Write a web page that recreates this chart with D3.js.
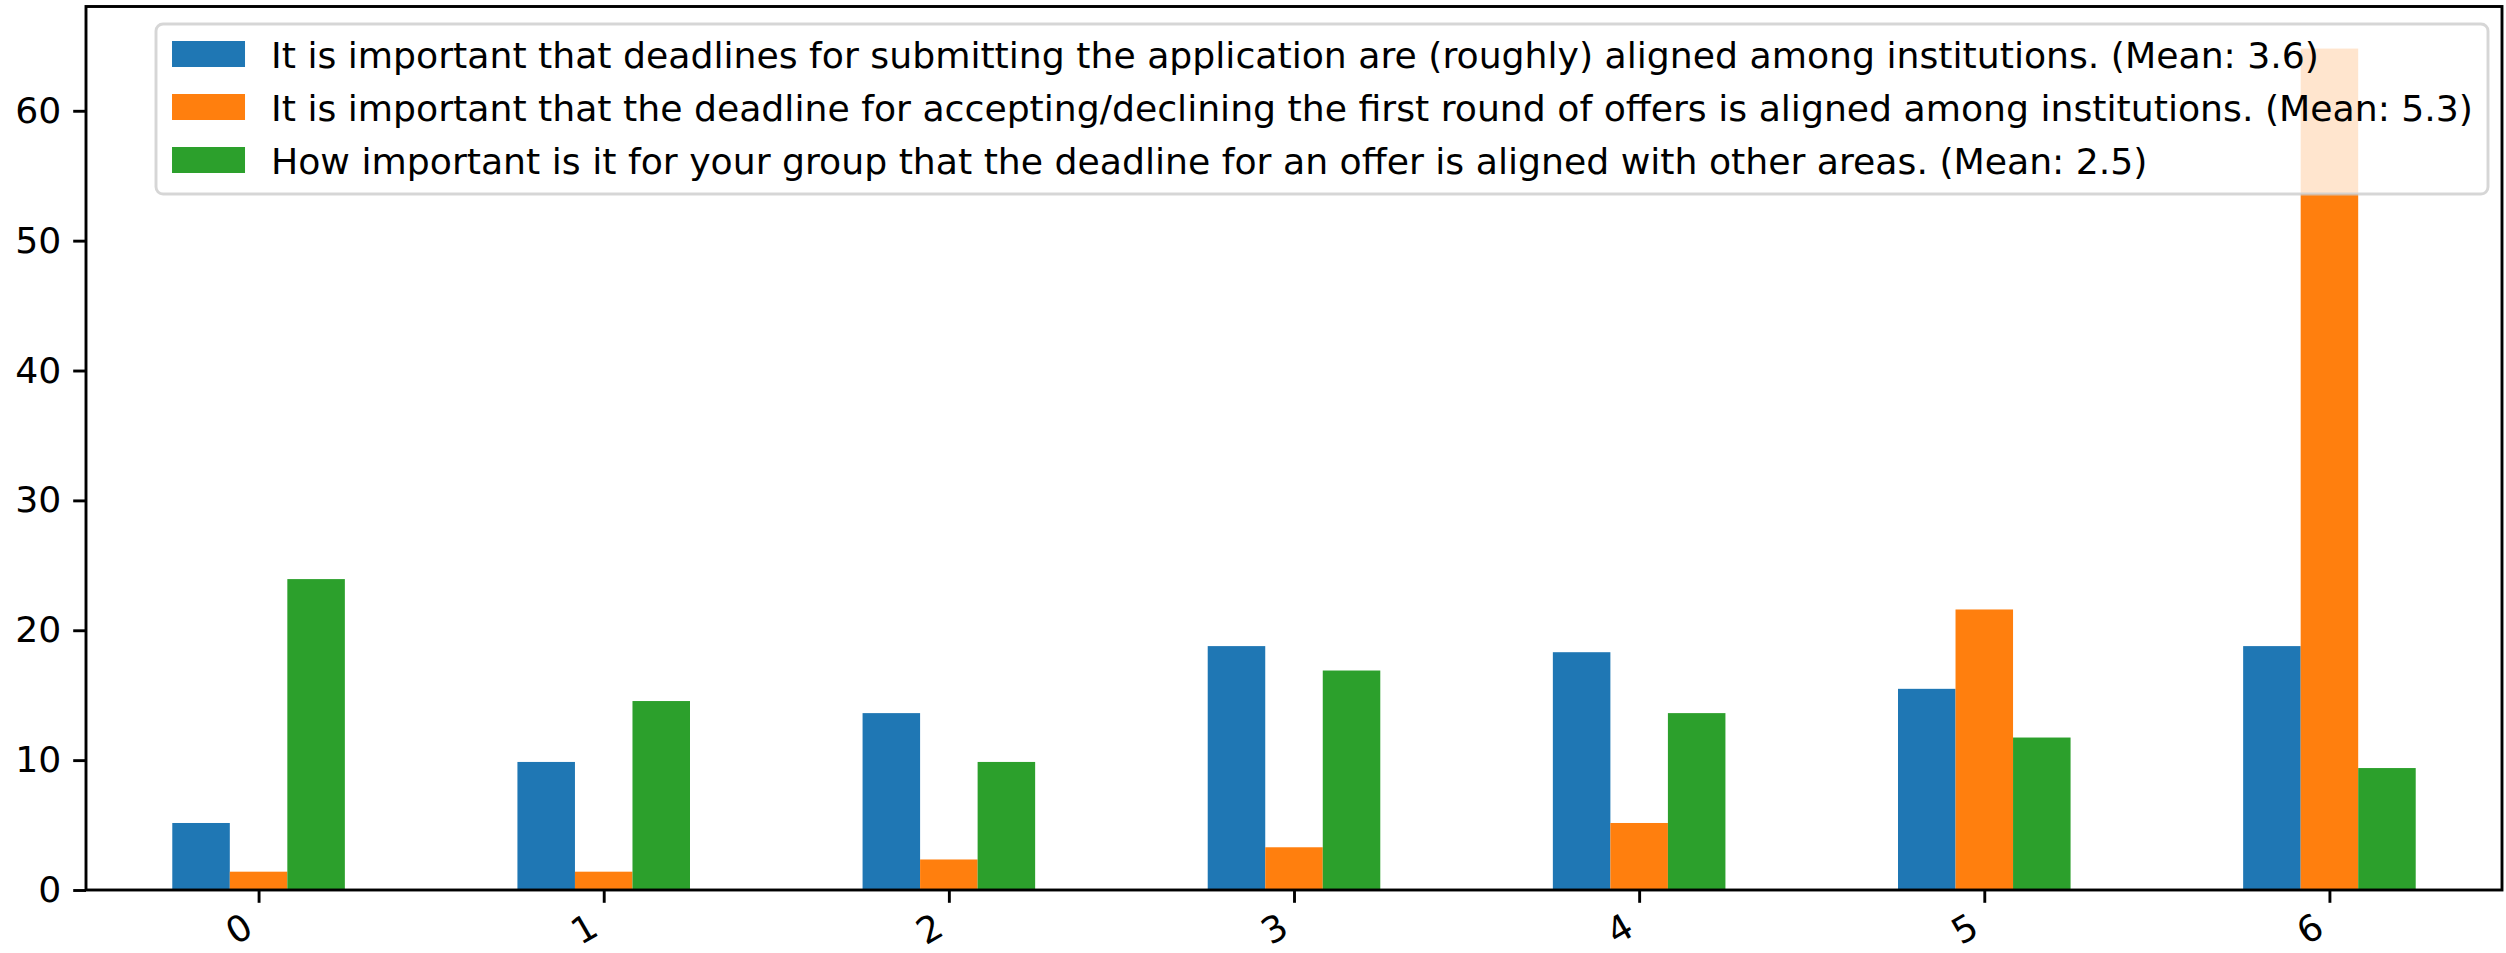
<!DOCTYPE html>
<html>
<head>
<meta charset="utf-8">
<script src="https://cdnjs.cloudflare.com/ajax/libs/d3/7.8.5/d3.min.js"></script>
<style>
    html, body { margin: 0; padding: 0; background: #fff; }
    svg { display: block; font-family: "DejaVu Sans", sans-serif; }
</style>
</head>
<body>
<div class="graph"></div>
<script>
'use strict';

// answer scale 0..6, share of respondents in percent
var categories = ['0', '1', '2', '3', '4', '5', '6'];

var seriesNames = [
    'It is important that deadlines for submitting the application are (roughly) aligned among institutions. (Mean: 3.6)',
    'It is important that the deadline for accepting/declining the first round of offers is aligned among institutions. (Mean: 5.3)',
    'How important is it for your group that the deadline for an offer is aligned with other areas. (Mean: 2.5)'
];

var submitValues = [5.16, 9.86, 13.62, 18.78, 18.31, 15.49, 18.78];
var acceptValues = [1.41, 1.41, 2.35, 3.29, 5.16, 21.60, 64.79];
var otherAreasValues = [23.94, 14.55, 9.86, 16.90, 13.62, 11.74, 9.39];

var yTicks = [0, 10, 20, 30, 40, 50, 60];

(function () {

    var width = 2506;
    var height = 953;
    var fontSize = 36.2;
    var left = 86, right = 2502, top = 6.5, bottom = 890;
    var colors = ['#1f77b4', '#ff7f0e', '#2ca02c'];
    var series = [submitValues, acceptValues, otherAreasValues];

    var svg = d3.select('.graph')
        .append('svg')
        .attr('width', width)
        .attr('height', height);

    var x = d3.scaleLinear()
        .domain([-0.5, categories.length - 0.5])
        .range([left, right]);

    var yMax = d3.max(series, function (s) { return d3.max(s); }) * 1.05;
    var y = d3.scaleLinear()
        .domain([0, yMax])
        .range([bottom, top]);

    var barWidth = 0.5 / series.length;

    // bars, grouped per series like pandas does
    series.forEach(function (values, si) {
        svg.append('g')
            .selectAll('rect')
            .data(values)
            .enter()
            .append('rect')
            .attr('x', function (d, i) { return x(i - 0.25 + si * barWidth); })
            .attr('width', x(barWidth) - x(0))
            .attr('y', function (d) { return y(d); })
            .attr('height', function (d) { return y(0) - y(d); })
            .attr('fill', colors[si]);
    });

    // y axis
    var yAxis = d3.axisLeft(y)
        .tickValues(yTicks)
        .tickSize(12.8)
        .tickPadding(12)
        .tickFormat(d3.format('d'));

    var gy = svg.append('g')
        .attr('transform', 'translate(' + left + ',0)')
        .call(yAxis);

    // x axis, labels tilted like autofmt_xdate
    var xAxis = d3.axisBottom(x)
        .tickValues(d3.range(categories.length))
        .tickSize(12.8)
        .tickFormat(function (d) { return categories[d]; });

    var gx = svg.append('g')
        .attr('transform', 'translate(0,' + bottom + ')')
        .call(xAxis);

    gx.selectAll('.tick text')
        .attr('y', 0)
        .attr('dy', null)
        .attr('text-anchor', 'middle')
        .attr('dominant-baseline', 'central')
        .attr('transform', 'translate(-20,39) rotate(-30)');

    [gx, gy].forEach(function (g) {
        g.select('.domain').remove();
        g.selectAll('.tick line')
            .attr('stroke', '#000')
            .attr('stroke-width', 2.9);
        g.selectAll('.tick text')
            .attr('fill', '#000')
            .style('font-size', fontSize + 'px')
            .style('font-family', '"DejaVu Sans", sans-serif');
    });

    // frame
    svg.append('rect')
        .attr('x', left)
        .attr('y', top)
        .attr('width', right - left)
        .attr('height', bottom - top)
        .attr('fill', 'none')
        .attr('stroke', '#000')
        .attr('stroke-width', 2.9);

    // legend, upper right
    var legend = svg.append('g');
    var box = legend.append('rect');
    var rowTop = 41, rowStep = 53, handleW = 73, handleH = 26;

    var texts = seriesNames.map(function (name, i) {
        return legend.append('text')
            .attr('y', rowTop + i * rowStep + handleH / 2 + 13.5)
            .style('font-size', fontSize + 'px')
            .attr('fill', '#000')
            .text(name);
    });

    var maxLen = d3.max(texts, function (t) { return t.node().getComputedTextLength(); });
    var boxRight = 2488;
    var textX = boxRight - 15 - maxLen;
    var handleX = textX - 26 - handleW;
    var boxLeft = handleX - 16;

    texts.forEach(function (t) { t.attr('x', textX); });

    seriesNames.forEach(function (name, i) {
        legend.append('rect')
            .attr('x', handleX)
            .attr('y', rowTop + i * rowStep)
            .attr('width', handleW)
            .attr('height', handleH)
            .attr('fill', colors[i]);
    });

    box.attr('x', boxLeft)
        .attr('y', 24)
        .attr('width', boxRight - boxLeft)
        .attr('height', 194 - 24)
        .attr('rx', 7)
        .attr('fill', '#fff')
        .attr('fill-opacity', 0.8)
        .attr('stroke', '#cccccc')
        .attr('stroke-opacity', 0.8)
        .attr('stroke-width', 2.9);

})();
</script>
</body>
</html>
